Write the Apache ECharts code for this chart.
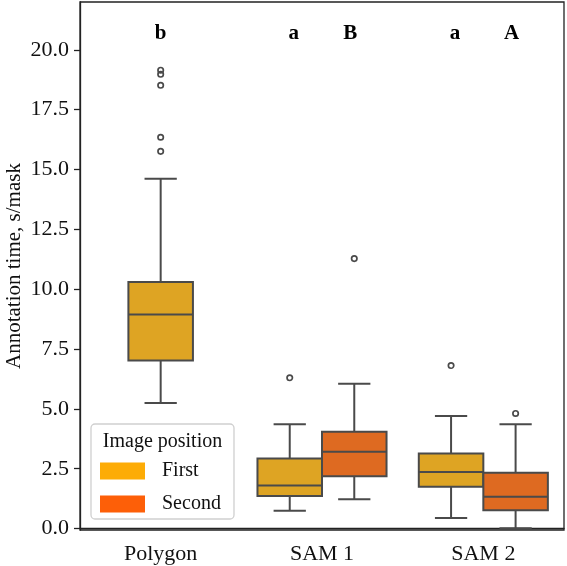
<!DOCTYPE html>
<html>
<head>
<meta charset="utf-8">
<script src="https://cdn.jsdelivr.net/npm/echarts@6/dist/echarts.min.js"></script>
<style>
html, body { margin: 0; padding: 0; background: #fff; }
#main { width: 567px; height: 566px; }
</style>
</head>
<body>
<div id="main"></div>
<script>
// 数据
var categories = ['Polygon', 'SAM 1', 'SAM 2'];
var hueNames = ['First', 'Second'];
// [下须, Q1, 中位数, Q3, 上须]
var firstStats = [[5.25, 7.02, 8.94, 10.30, 14.62], [0.74, 1.36, 1.80, 2.93, 4.36], [0.44, 1.75, 2.36, 3.14, 4.70]];
var secondStats = [null, [1.22, 2.19, 3.21, 4.04, 6.05], [0.01, 0.76, 1.33, 2.33, 4.36]];
var firstOutliers = [[15.76, 16.35, 18.52, 18.98, 19.15], [6.30], [6.81]];
var secondOutliers = [[], [11.28], [4.81]];
var firstLetters = ['b', 'a', 'a'];
var secondLetters = ['', 'B', 'A'];
var letterLevel = 20.7;
var yTicks = [0, 2.5, 5, 7.5, 10, 12.5, 15, 17.5, 20];

var fillColors = ['#dea423', '#de6a21'];
var legendColors = ['#fdac06', '#fd5f08'];
var lineColor = '#4a4a4a';
var serif = '"Liberation Serif", "Times New Roman", serif';

// 每个类别里有几个色调
var hueCount = categories.map(function (c, i) {
	return secondStats[i] ? 2 : 1;
});

function dodge(cat, hue, band, frac) {
	var n = hueCount[cat];
	return (hue - (n - 1) / 2) * frac * band;
}

function boxData(stats) {
	var out = [];
	for (var i = 0; i < stats.length; i++) {
		if (stats[i]) out.push([i].concat(stats[i]));
	}
	return out;
}

function pointData(list) {
	var out = [];
	for (var i = 0; i < list.length; i++) {
		for (var j = 0; j < list[i].length; j++) out.push([i, list[i][j]]);
	}
	return out;
}

function letterData(list) {
	var out = [];
	for (var i = 0; i < list.length; i++) {
		if (list[i]) out.push([i, letterLevel, list[i]]);
	}
	return out;
}

function makeBox(hue) {
	return function (params, api) {
		var cat = api.value(0);
		var band = api.size([1, 0])[0];
		var cx = api.coord([cat, 0])[0] + dodge(cat, hue, band, 0.4);
		var w = band * 0.4;
		var lo = api.coord([cat, api.value(1)])[1];
		var q1 = api.coord([cat, api.value(2)])[1];
		var md = api.coord([cat, api.value(3)])[1];
		var q3 = api.coord([cat, api.value(4)])[1];
		var hi = api.coord([cat, api.value(5)])[1];
		var st = { stroke: lineColor, lineWidth: 2, fill: null };
		return {
			type: 'group',
			children: [
				{ type: 'line', shape: { x1: cx, y1: lo, x2: cx, y2: q1 }, style: st },
				{ type: 'line', shape: { x1: cx, y1: q3, x2: cx, y2: hi }, style: st },
				{ type: 'line', shape: { x1: cx - w / 4, y1: lo, x2: cx + w / 4, y2: lo }, style: st },
				{ type: 'line', shape: { x1: cx - w / 4, y1: hi, x2: cx + w / 4, y2: hi }, style: st },
				{ type: 'rect', shape: { x: cx - w / 2, y: q3, width: w, height: q1 - q3 },
					style: { fill: fillColors[hue], stroke: lineColor, lineWidth: 2 } },
				{ type: 'line', shape: { x1: cx - w / 2, y1: md, x2: cx + w / 2, y2: md }, style: st }
			]
		};
	};
}

function makeFlier(hue) {
	return function (params, api) {
		var cat = api.value(0);
		var band = api.size([1, 0])[0];
		var p = api.coord([cat, api.value(1)]);
		return {
			type: 'circle',
			shape: { cx: p[0] + dodge(cat, hue, band, 0.4), cy: p[1], r: 2.7 },
			style: { fill: 'none', stroke: lineColor, lineWidth: 1.7 }
		};
	};
}

function makeLetter(hue) {
	return function (params, api) {
		var cat = api.value(0);
		var band = api.size([1, 0])[0];
		var p = api.coord([cat, api.value(1)]);
		return {
			type: 'text',
			x: p[0] + dodge(cat, hue, band, 0.35),
			y: p[1],
			style: {
				text: api.value(2),
				font: 'bold 21px ' + serif,
				fill: '#000',
				align: 'center',
				verticalAlign: 'middle'
			}
		};
	};
}

var series = [];
var statsList = [firstStats, secondStats];
var outlierList = [firstOutliers, secondOutliers];
var letterList = [firstLetters, secondLetters];
for (var h = 0; h < 2; h++) {
	series.push({
		name: hueNames[h],
		type: 'custom',
		renderItem: makeBox(h),
		itemStyle: { color: legendColors[h] },
		encode: { x: 0, y: [1, 2, 3, 4, 5] },
		data: boxData(statsList[h]),
		z: 2
	});
	series.push({
		name: hueNames[h] + ' outliers',
		type: 'custom',
		renderItem: makeFlier(h),
		encode: { x: 0, y: 1 },
		data: pointData(outlierList[h]),
		z: 3
	});
	series.push({
		name: hueNames[h] + ' letters',
		type: 'custom',
		renderItem: makeLetter(h),
		encode: { x: 0, y: 1 },
		data: letterData(letterList[h]),
		z: 3
	});
}

var myChart = echarts.init(document.getElementById('main'));
var option = {
	animation: false,
	grid: {
		left: 80, right: 3, top: 2, bottom: 36,
		outerBoundsMode: 'none',
		containLabel: false,
		show: true, borderColor: '#222', borderWidth: 1.3, backgroundColor: 'transparent'
	},
	xAxis: {
		type: 'category',
		data: categories,
		axisLine: { lineStyle: { color: '#222', width: 1.3 } },
		axisTick: { alignWithLabel: true, length: 6, lineStyle: { color: '#222', width: 1.3 } },
		axisLabel: { color: '#111', fontSize: 22, fontFamily: serif, margin: 13 },
		splitLine: { show: false }
	},
	yAxis: {
		type: 'value',
		min: -0.06,
		max: 22.0,
		name: 'Annotation time, s/mask',
		nameLocation: 'middle',
		nameMoveOverlap: false,
		nameGap: 55,
		nameTextStyle: { color: '#111', fontSize: 21, fontFamily: serif },
		axisLine: { show: true, lineStyle: { color: '#222', width: 1.3 } },
		axisTick: { show: true, length: 6, customValues: yTicks, lineStyle: { color: '#222', width: 1.3 } },
		axisLabel: {
			color: '#111', fontSize: 22, fontFamily: serif, margin: 11,
			customValues: yTicks,
			formatter: function (v) { return v.toFixed(1); }
		},
		splitLine: { show: false }
	},
	legend: {
		data: [
			{ name: 'First', icon: 'rect', itemStyle: { color: legendColors[0], borderWidth: 0 } },
			{ name: 'Second', icon: 'rect', itemStyle: { color: legendColors[1], borderWidth: 0 } }
		],
		orient: 'vertical',
		left: 100,
		top: 461,
		padding: 0,
		itemWidth: 45,
		itemHeight: 17,
		itemGap: 13,
		textStyle: { color: '#111', fontSize: 20, fontFamily: serif, padding: [0, 0, 0, 12] },
		z: 10
	},
	graphic: [
		{
			type: 'rect',
			shape: { x: 91, y: 424, width: 143, height: 95, r: 4 },
			style: { fill: 'rgba(255,255,255,0.85)', stroke: '#cfcfcf', lineWidth: 1.3 },
			z: 8
		},
		{
			type: 'text',
			x: 162.5,
			y: 442,
			style: {
				text: 'Image position',
				font: '20px ' + serif,
				fill: '#111',
				align: 'center',
				verticalAlign: 'middle'
			},
			z: 9
		}
	],
	series: series
};
myChart.setOption(option, true);
</script>
</body>
</html>
